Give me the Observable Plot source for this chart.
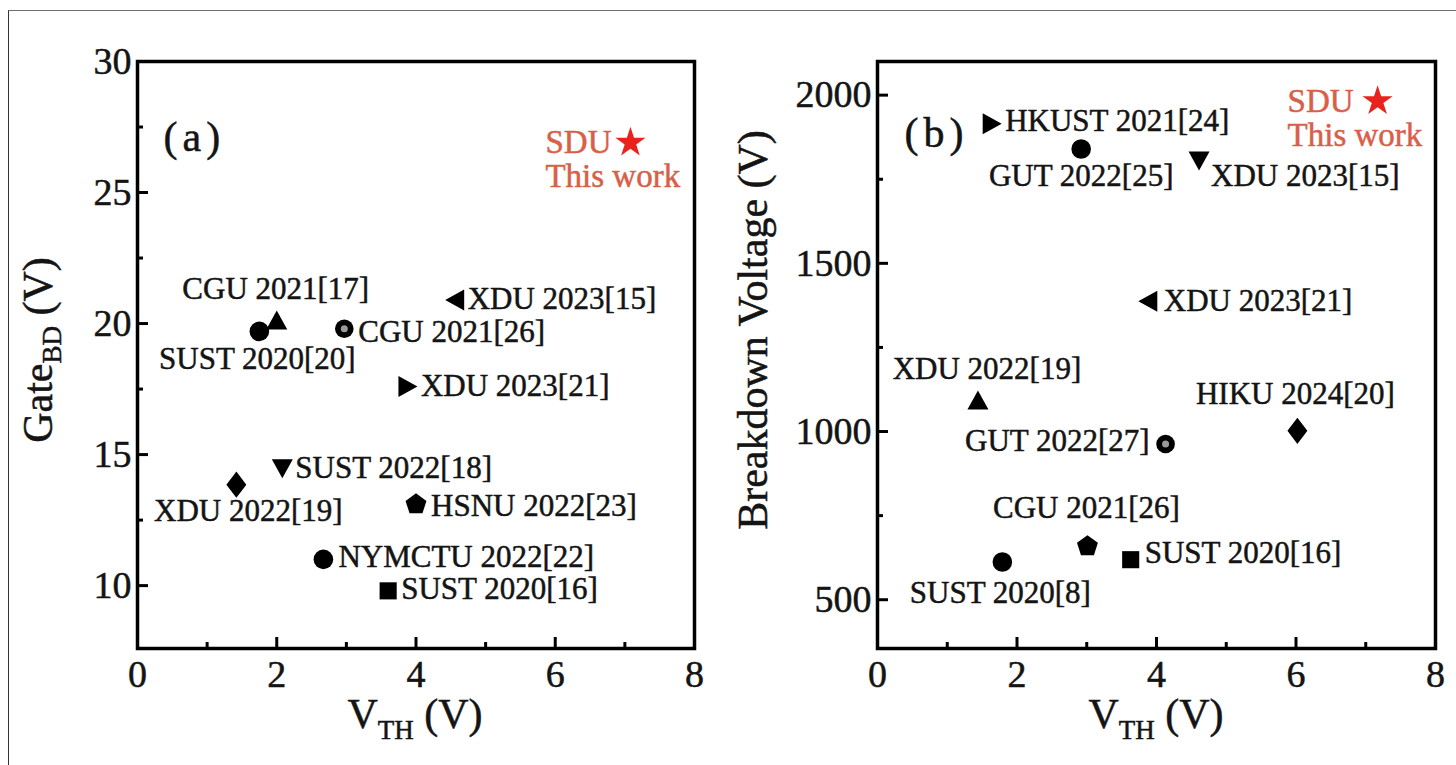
<!DOCTYPE html>
<html>
<head>
<meta charset="utf-8">
<script src="https://cdn.jsdelivr.net/npm/d3@7"></script>
<script src="https://cdn.jsdelivr.net/npm/@observablehq/plot@0.6"></script>
<style>
  html, body { margin: 0; padding: 0; background: #fff; width: 1456px; height: 765px; overflow: hidden; }
  #fig { position: relative; width: 1456px; height: 765px; }
  #border { position: absolute; left: 8px; top: 10px; width: 1600px; height: 900px;
            border-left: 1.5px solid #333; border-top: 1px solid #707070; box-sizing: border-box; }
  #panel-a { position: absolute; left: 0; top: 0; }
  #panel-b { position: absolute; left: 728px; top: 0; }
  svg { display: block; }
  .panel-tag { letter-spacing: 5px; }
</style>
</head>
<body>
<div id="fig">
  <div id="border"></div>
  <div id="panel-a"></div>
  <div id="panel-b"></div>
</div>
<script>
// ---- Panel (a): gate breakdown voltage vs threshold voltage ----
const labelsA = ["SUST 2020[20]", "CGU 2021[17]", "CGU 2021[26]", "XDU 2023[15]", "XDU 2023[21]",
                 "SUST 2022[18]", "XDU 2022[19]", "HSNU 2022[23]", "NYMCTU 2022[22]", "SUST 2020[16]"];
const vthA   = [1.75, 2.0, 2.97, 4.57, 3.87, 2.08, 1.42, 4.0, 2.67, 3.6];
const gateBD = [19.7, 20.1, 19.8, 20.9, 17.6, 14.5, 13.85, 13.1, 11.0, 9.8];

// ---- Panel (b): off-state breakdown voltage vs threshold voltage ----
const labelsB = ["HKUST 2021[24]", "GUT 2022[25]", "XDU 2023[15]", "XDU 2023[21]", "XDU 2022[19]",
                 "HIKU 2024[20]", "GUT 2022[27]", "CGU 2021[26]", "SUST 2020[16]", "SUST 2020[8]"];
const vthB = [1.63, 2.92, 4.61, 3.89, 1.44, 6.02, 4.13, 3.01, 3.63, 1.79];
const breakdownV = [1915, 1840, 1807, 1387, 1091, 1002, 963, 659, 619, 612];

// ---- This work (SDU) ----
const thisWorkVthA = 7.08, thisWorkGateBD = 26.9;
const thisWorkVthB = 7.17, thisWorkBV = 1982;

// ---- Axis ticks ----
const xMajor = [0, 2, 4, 6, 8], xMinor = [1, 3, 5, 7];
const yMajorA = [10, 15, 20, 25, 30], yMinorA = [12.5, 17.5, 22.5, 27.5];
const yMajorB = [500, 1000, 1500, 2000], yMinorB = [750, 1250, 1750];

// ---- Marker styles and label placement (dx, dy, anchor) ----
const markerA = ["circle", "triUp", "half", "triLeft", "triRight", "triDown", "diamond", "pentagon", "circle", "square"];
const markerB = ["triRight", "circle", "triDown", "triLeft", "triUp", "diamond", "half", "pentagon", "square", "circle"];
const layoutA = [[-2, 28, "middle"], [-1, -32, "middle"], [14, 3, "start"], [12, -1, "start"], [14, 0, "start"],
                 [13, 0, "start"], [12, 26, "middle"], [15, 2, "start"], [15, -2, "start"], [13, -2, "start"]];
const layoutB = [[14, -3, "start"], [0, 27, "middle"], [12, 16, "start"], [15, 0, "start"], [9, -32, "middle"],
                 [-2, -37, "middle"], [-16, -3, "end"], [-1, -38, "middle"], [14, -7, "start"], [-2, 31, "middle"]];

const W = 728, H = 765, MT = 61, MB = 117;
const FONT = "'Liberation Serif', 'Times New Roman', Times, serif";
const INK = "#141414";
const RED_TEXT = "#d85f48", RED_STAR = "#e8231c";

function polygon(points) {
  return {
    draw(ctx, size) {
      const r = Math.sqrt(size / Math.PI);
      ctx.moveTo(points[0][0] * r, points[0][1] * r);
      for (let i = 1; i < points.length; ++i) ctx.lineTo(points[i][0] * r, points[i][1] * r);
      ctx.closePath();
    }
  };
}
const pentagonPts = d3.range(5).map(i => {
  const a = -Math.PI / 2 + i * 2 * Math.PI / 5;
  return [1.1 * Math.cos(a), 1.1 * Math.sin(a)];
});
const SYMBOLS = {
  circle: "circle",
  half: "circle",
  square: polygon([[-0.9, -0.9], [0.9, -0.9], [0.9, 0.9], [-0.9, 0.9]]),
  triUp: polygon([[0, -1.05], [1.05, 0.85], [-1.05, 0.85]]),
  triDown: polygon([[0, 1.05], [1.05, -0.85], [-1.05, -0.85]]),
  triRight: polygon([[1.05, 0], [-0.85, 1.05], [-0.85, -1.05]]),
  triLeft: polygon([[-1.05, 0], [0.85, 1.05], [0.85, -1.05]]),
  diamond: polygon([[0, -1.25], [0.95, 0], [0, 1.25], [-0.95, 0]]),
  pentagon: polygon(pentagonPts)
};
const SIZES = {circle: 9.8, half: 9.3, square: 9.5, triUp: 10, triDown: 10, triRight: 10, triLeft: 10, diamond: 10.5, pentagon: 10};

function panel({labels, vth, values, markers, layout, yDomain, yMajor, yMinor, marginLeft, marginRight, tag, tagDx, tagDy,
                thisVth, thisValue, thisDx}) {
  const rows = labels.map((label, i) => ({label, vth: vth[i], value: values[i], marker: markers[i]}));
  const innerW = W - marginLeft - marginRight, innerH = H - MT - MB;
  const types = Array.from(new Set(markers));
  const dots = types.map(t => Plot.dot(rows.filter(d => d.marker === t), {
    x: "vth", y: "value", symbol: SYMBOLS[t], r: SIZES[t], fill: "#000", stroke: "none"
  }));
  const halfSpots = Plot.dot(rows.filter(d => d.marker === "half"), {x: "vth", y: "value", r: 3.5, fill: "#9a9a9a"});
  const texts = rows.map((d, i) => Plot.text([d], {
    x: "vth", y: "value", text: "label", dx: layout[i][0], dy: layout[i][1], textAnchor: layout[i][2],
    fontSize: 31, fill: INK
  }));
  const me = [{vth: thisVth, value: thisValue}];
  const svg = Plot.plot({
    width: W, height: H, marginTop: MT, marginBottom: MB, marginLeft, marginRight,
    x: {domain: [0, 8], label: null},
    y: {domain: yDomain, label: null},
    style: {background: "none", fontFamily: FONT, color: INK, overflow: "visible"},
    marks: [
      Plot.tickX(xMajor, {x: d => d, insetTop: innerH - 11, stroke: "#000", strokeWidth: 3}),
      Plot.tickX(xMinor, {x: d => d, insetTop: innerH - 6, stroke: "#000", strokeWidth: 3}),
      Plot.tickY(yMajor, {y: d => d, insetRight: innerW - 11, stroke: "#000", strokeWidth: 3}),
      Plot.tickY(yMinor, {y: d => d, insetRight: innerW - 6, stroke: "#000", strokeWidth: 3}),
      Plot.axisX(xMajor, {tickSize: 0, tickPadding: 12, fontSize: 38, label: null, fill: INK, tickFormat: d => String(d)}),
      Plot.axisY(yMajor, {tickSize: 0, tickPadding: 6, fontSize: 38, label: null, fill: INK, tickFormat: d => String(d)}),
      ...dots,
      halfSpots,
      ...texts,
      Plot.text([tag], {frameAnchor: "top-left", text: d => d, dx: tagDx, dy: tagDy, textAnchor: "start",
                        fontSize: 42, fill: INK, className: "panel-tag"}),
      Plot.dot(me, {x: "vth", y: "value", symbol: "star", r: 9.5, fill: RED_STAR}),
      Plot.text(me, {x: "vth", y: "value", text: () => "SDU", dx: thisDx, dy: 0, textAnchor: "start", fontSize: 33, fill: RED_TEXT}),
      Plot.text(me, {x: "vth", y: "value", text: () => "This work", dx: thisDx, dy: 34, textAnchor: "start", fontSize: 33, fill: RED_TEXT}),
      Plot.frame({stroke: "#000", strokeWidth: 3.5})
    ]
  });
  return svg;
}

// Axis title with an optional subscript
function addTitle(svg, {x, y, rotate, main, sub, rest, size, subSize, subDy}) {
  const t = d3.select(svg).append("text")
    .attr("transform", `translate(${x},${y})${rotate ? " rotate(-90)" : ""}`)
    .attr("text-anchor", "middle")
    .attr("font-family", FONT)
    .attr("font-size", size)
    .attr("fill", INK);
  t.append("tspan").text(main);
  if (sub) {
    t.append("tspan").attr("font-size", subSize).attr("dy", subDy).text(sub);
    t.append("tspan").attr("dy", -subDy).text(rest);
  }
}

// Slightly heavier glyphs: outline each text in its own fill colour
function thicken(svg, width) {
  d3.select(svg).selectAll("text").each(function () {
    const fill = getComputedStyle(this).fill;
    d3.select(this).style("stroke", fill).style("stroke-width", width).style("paint-order", "stroke");
  });
}

const svgA = panel({
  labels: labelsA, vth: vthA, values: gateBD, markers: markerA, layout: layoutA,
  yDomain: [7.6, 30], yMajor: yMajorA, yMinor: yMinorA, marginLeft: 137, marginRight: 34,
  tag: "(a)", tagDx: 26, tagDy: 60, thisVth: thisWorkVthA, thisValue: thisWorkGateBD, thisDx: -85
});
addTitle(svgA, {x: 52, y: 350, rotate: true, main: "Gate", sub: "BD", rest: " (V)", size: 42, subSize: 27, subDy: 9});
addTitle(svgA, {x: 415, y: 728, rotate: false, main: "V", sub: "TH", rest: " (V)", size: 42, subSize: 27, subDy: 11});
document.getElementById("panel-a").append(svgA);
thicken(svgA, 0.5);

const svgB = panel({
  labels: labelsB, vth: vthB, values: breakdownV, markers: markerB, layout: layoutB,
  yDomain: [355, 2100], yMajor: yMajorB, yMinor: yMinorB, marginLeft: 149, marginRight: 21,
  tag: "(b)", tagDx: 27, tagDy: 56, thisVth: thisWorkVthB, thisValue: thisWorkBV, thisDx: -90
});
addTitle(svgB, {x: 39, y: 330, rotate: true, main: "Breakdown Voltage (V)", size: 42});
addTitle(svgB, {x: 428, y: 728, rotate: false, main: "V", sub: "TH", rest: " (V)", size: 42, subSize: 27, subDy: 11});
document.getElementById("panel-b").append(svgB);
thicken(svgB, 0.5);
</script>
</body>
</html>
